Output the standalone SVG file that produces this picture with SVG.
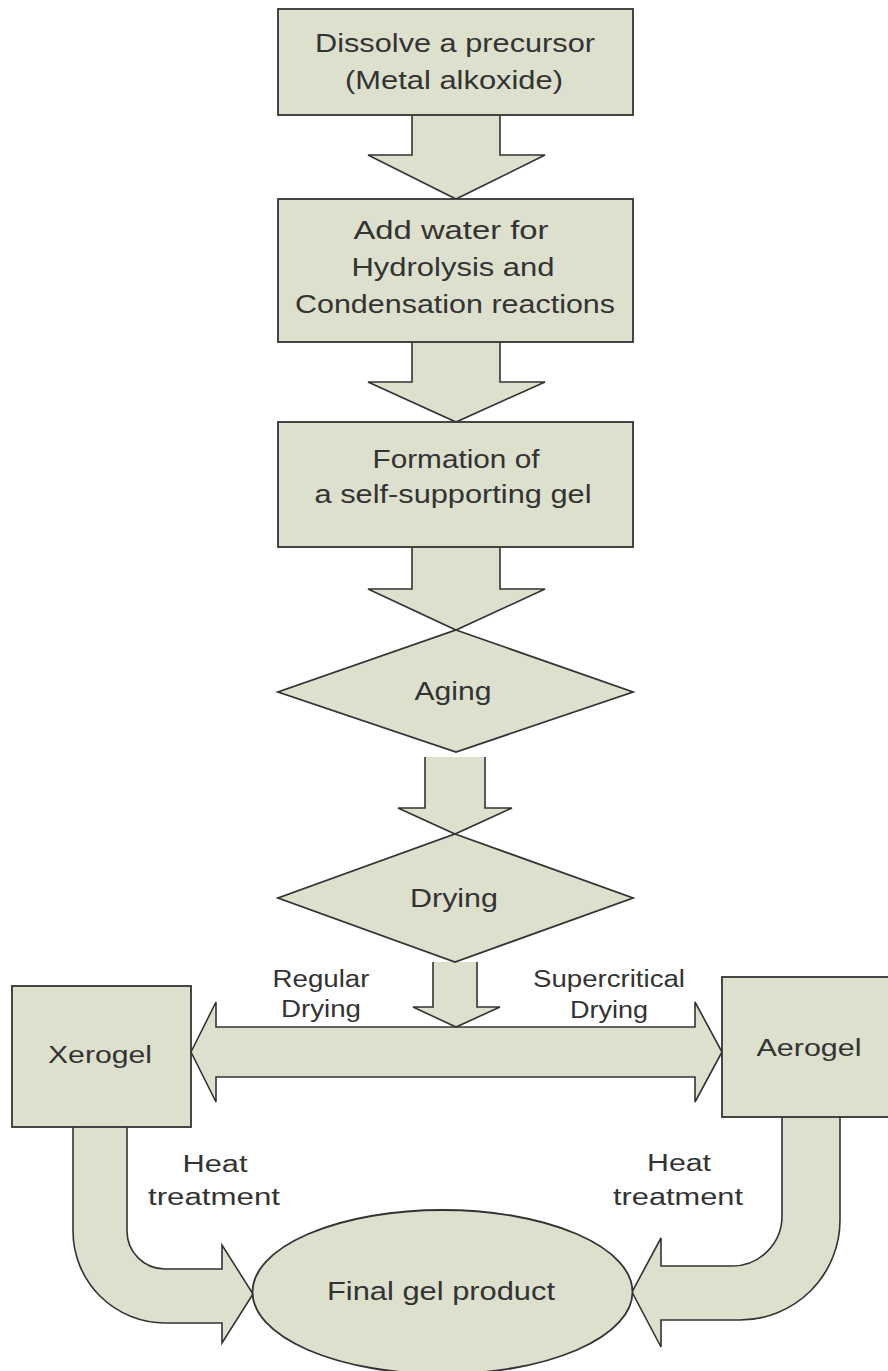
<svg xmlns="http://www.w3.org/2000/svg" width="888" height="1371" viewBox="0 0 888 1371">
  <style>
    .shape { fill: #dde0cd; stroke: #333333; stroke-width: 1.8; stroke-linejoin: miter; }
    .conn { fill: #dde0cd; stroke: #333333; stroke-width: 1.6; stroke-linejoin: miter; }
    .t { font-family: "Liberation Sans", Arial, sans-serif; font-size: 25px; fill: #333333; text-anchor: middle; }
    .l { font-family: "Liberation Sans", Arial, sans-serif; font-size: 23px; fill: #333333; text-anchor: middle; }
  </style>
  <rect x="0" y="0" width="888" height="1371" fill="#ffffff"/>

  <g id="connectors">
    <path class="conn" d="M412,115 L412,155 L368,155 L456,199 L545,155 L500,155 L500,115"/>
    <path class="conn" d="M412,342 L412,382 L368,382 L456,422 L545,382 L500,382 L500,342"/>
    <path class="conn" d="M412,547 L412,589 L368,589 L456,630 L545,589 L500,589 L500,547"/>
    <path class="conn" d="M425,757 L425,808 L398,808 L455,834 L512,808 L485,808 L485,757"/>
    <path class="conn" d="M191,1052 L216,1002 L216,1027 L695,1027 L695,1002 L722,1052 L695,1102 L695,1077 L216,1077 L216,1102 Z"/>
    <path class="conn" d="M433,962 L433,1007 L413,1007 L456,1027 L500,1007 L477,1007 L477,962"/>
    <path class="conn" d="M127,1127 L127,1231 A38,38 0 0 0 165,1269 L222,1269 L222,1245 L253,1294 L222,1343 L222,1323 L165,1323 A92,92 0 0 1 73,1231 L73,1127"/>
    <path class="conn" d="M782,1117 L782,1216 A50,50 0 0 1 732,1266 L661,1266 L661,1238 L632,1292 L661,1347 L661,1320 L740,1320 A100,100 0 0 0 840,1220 L840,1117"/>
    <text class="l" x="321" y="987" textLength="97" lengthAdjust="spacingAndGlyphs">Regular</text>
    <text class="l" x="321" y="1017" textLength="80" lengthAdjust="spacingAndGlyphs">Drying</text>
    <text class="l" x="609" y="987" textLength="152" lengthAdjust="spacingAndGlyphs">Supercritical</text>
    <text class="l" x="609" y="1018" textLength="78" lengthAdjust="spacingAndGlyphs">Drying</text>
    <text class="l" x="215" y="1172" textLength="65" lengthAdjust="spacingAndGlyphs">Heat</text>
    <text class="l" x="214" y="1205" textLength="132" lengthAdjust="spacingAndGlyphs">treatment</text>
    <text class="l" x="679" y="1171" textLength="64" lengthAdjust="spacingAndGlyphs">Heat</text>
    <text class="l" x="678" y="1205" textLength="130" lengthAdjust="spacingAndGlyphs">treatment</text>
  </g>

  <g id="dissolve">
    <rect class="shape" x="278" y="9" width="355" height="106"/>
    <text class="t" x="455" y="52" textLength="280" lengthAdjust="spacingAndGlyphs">Dissolve a precursor</text>
    <text class="t" x="454" y="89" textLength="218" lengthAdjust="spacingAndGlyphs">(Metal alkoxide)</text>
  </g>

  <g id="addwater">
    <rect class="shape" x="278" y="199" width="355" height="143"/>
    <text class="t" x="451" y="239" textLength="195" lengthAdjust="spacingAndGlyphs">Add water for</text>
    <text class="t" x="453" y="276" textLength="203" lengthAdjust="spacingAndGlyphs">Hydrolysis and</text>
    <text class="t" x="455" y="313" textLength="320" lengthAdjust="spacingAndGlyphs">Condensation reactions</text>
  </g>

  <g id="formation">
    <rect class="shape" x="278" y="422" width="355" height="125"/>
    <text class="t" x="456" y="468" textLength="167" lengthAdjust="spacingAndGlyphs">Formation of</text>
    <text class="t" x="453" y="503" textLength="277" lengthAdjust="spacingAndGlyphs">a self-supporting gel</text>
  </g>

  <g id="aging">
    <polygon class="shape" points="456,630 633,692 456,752 278,692"/>
    <text class="t" x="453" y="700" textLength="77" lengthAdjust="spacingAndGlyphs">Aging</text>
  </g>

  <g id="drying">
    <polygon class="shape" points="455,834 633,898 455,962 278,898"/>
    <text class="t" x="454" y="907" textLength="88" lengthAdjust="spacingAndGlyphs">Drying</text>
  </g>

  <g id="xerogel">
    <rect class="shape" x="12" y="986" width="179" height="141"/>
    <text class="l" x="100" y="1063" textLength="104" lengthAdjust="spacingAndGlyphs">Xerogel</text>
  </g>

  <g id="aerogel">
    <rect class="shape" x="722" y="977" width="172" height="140"/>
    <text class="l" x="809" y="1056" textLength="105" lengthAdjust="spacingAndGlyphs">Aerogel</text>
  </g>

  <g id="final">
    <ellipse class="shape" cx="442.5" cy="1292" rx="190" ry="82"/>
    <text class="t" x="441" y="1300" textLength="228" lengthAdjust="spacingAndGlyphs">Final gel product</text>
  </g>
</svg>
